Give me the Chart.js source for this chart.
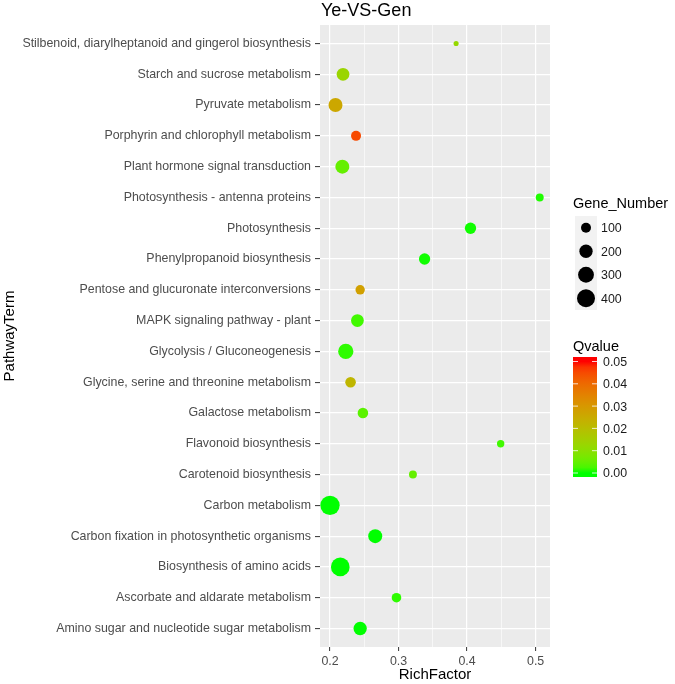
<!DOCTYPE html>
<html>
<head>
<meta charset="utf-8">
<title>Ye-VS-Gen</title>
<script src="https://cdn.jsdelivr.net/npm/chart.js@4.4.1/dist/chart.umd.min.js"></script>
<style>
  body { margin: 0; background: #fff; }
  canvas { display: block; }
</style>
</head>
<body>
<canvas id="chart" width="675" height="684"></canvas>
<script>
// Pathways, top to bottom as shown on the y axis
const pathways = [
    'Stilbenoid, diarylheptanoid and gingerol biosynthesis',
    'Starch and sucrose metabolism',
    'Pyruvate metabolism',
    'Porphyrin and chlorophyll metabolism',
    'Plant hormone signal transduction',
    'Photosynthesis - antenna proteins',
    'Photosynthesis',
    'Phenylpropanoid biosynthesis',
    'Pentose and glucuronate interconversions',
    'MAPK signaling pathway - plant',
    'Glycolysis / Gluconeogenesis',
    'Glycine, serine and threonine metabolism',
    'Galactose metabolism',
    'Flavonoid biosynthesis',
    'Carotenoid biosynthesis',
    'Carbon metabolism',
    'Carbon fixation in photosynthetic organisms',
    'Biosynthesis of amino acids',
    'Ascorbate and aldarate metabolism',
    'Amino sugar and nucleotide sugar metabolism'
];
const richFactor = [0.384, 0.219, 0.208, 0.238, 0.218, 0.506, 0.405, 0.338, 0.244, 0.240,
                    0.223, 0.230, 0.248, 0.449, 0.321, 0.200, 0.266, 0.215, 0.297, 0.244];
const geneNumber = [15, 180, 225, 100, 225, 55, 135, 135, 85, 180,
                    275, 115, 115, 45, 55, 470, 225, 435, 90, 200];
const qValue = [0.012, 0.013, 0.026, 0.045, 0.005, 0.0005, 0.0002, 0.0002, 0.028, 0.002,
                0.001, 0.022, 0.004, 0.002, 0.005, 0, 0, 0, 0.001, 0];

const xTicks = [0.2, 0.25, 0.3, 0.35, 0.4, 0.45, 0.5];
const xMajor = [0.2, 0.3, 0.4, 0.5];
const sizeLegend = [100, 200, 300, 400];
const qTicks = [0, 0.01, 0.02, 0.03, 0.04, 0.05];
const qMax = 0.05;

const FONT = '"Liberation Sans", Arial, Helvetica, sans-serif';

// bubble radius from gene number (sqrt scale like ggplot scale_size)
function radiusFor(n) {
    return 1 + 0.4 * Math.sqrt(n);
}

// green -> red gradient, interpolated in Lab like ggplot
function toLab(rgb) {
    const lin = rgb.map(c => {
        c /= 255;
        return c <= 0.04045 ? c / 12.92 : Math.pow((c + 0.055) / 1.055, 2.4);
    });
    let X = (lin[0] * 0.4124 + lin[1] * 0.3576 + lin[2] * 0.1805) / 0.95047;
    let Y = (lin[0] * 0.2126 + lin[1] * 0.7152 + lin[2] * 0.0722);
    let Z = (lin[0] * 0.0193 + lin[1] * 0.1192 + lin[2] * 0.9505) / 1.08883;
    const f = t => t > 0.008856 ? Math.cbrt(t) : 7.787 * t + 16 / 116;
    X = f(X); Y = f(Y); Z = f(Z);
    return [116 * Y - 16, 500 * (X - Y), 200 * (Y - Z)];
}
function fromLab(lab) {
    let Y = (lab[0] + 16) / 116, X = lab[1] / 500 + Y, Z = Y - lab[2] / 200;
    const g = t => t * t * t > 0.008856 ? t * t * t : (t - 16 / 116) / 7.787;
    X = g(X) * 0.95047; Y = g(Y); Z = g(Z) * 1.08883;
    let r = X * 3.2406 + Y * -1.5372 + Z * -0.4986;
    let gg = X * -0.9689 + Y * 1.8758 + Z * 0.0415;
    let b = X * 0.0557 + Y * -0.2040 + Z * 1.0570;
    return [r, gg, b].map(c => {
        c = c > 0.0031308 ? 1.055 * Math.pow(c, 1 / 2.4) - 0.055 : 12.92 * c;
        return Math.round(Math.min(1, Math.max(0, c)) * 255);
    });
}
const labLow = toLab([0, 255, 0]);
const labHigh = toLab([255, 0, 0]);
function qColor(q) {
    const t = Math.min(1, Math.max(0, q / qMax));
    const c = fromLab(labLow.map((v, i) => v + (labHigh[i] - v) * t));
    return `rgb(${c[0]},${c[1]},${c[2]})`;
}

const n = pathways.length;
const points = pathways.map((p, i) => ({ x: richFactor[i], y: n - 1 - i, r: radiusFor(geneNumber[i]) }));

// grey panel + title + legends
const ggPlugin = {
    id: 'ggStyle',
    beforeDraw(chart) {
        const { ctx, chartArea: a } = chart;
        ctx.save();
        ctx.fillStyle = '#EBEBEB';
        ctx.fillRect(a.left, a.top, a.right - a.left, a.bottom - a.top);
        ctx.restore();
    },
    afterDraw(chart) {
        const { ctx, chartArea: a } = chart;
        ctx.save();
        // title, left aligned on the panel
        ctx.fillStyle = '#000';
        ctx.font = `18px ${FONT}`;
        ctx.textAlign = 'left';
        ctx.textBaseline = 'middle';
        ctx.fillText('Ye-VS-Gen', a.left + 1, 11);

        // size legend
        ctx.font = `14.5px ${FONT}`;
        ctx.fillText('Gene_Number', 573, 204);
        const keyTop = 216, keyH = 23.5;
        ctx.fillStyle = '#F2F2F2';
        ctx.fillRect(575, keyTop, 22, keyH * sizeLegend.length);
        ctx.font = `12.4px ${FONT}`;
        sizeLegend.forEach((v, i) => {
            const cy = keyTop + keyH * (i + 0.5);
            ctx.fillStyle = '#000';
            ctx.beginPath();
            ctx.arc(586, cy, radiusFor(v), 0, Math.PI * 2);
            ctx.fill();
            ctx.fillStyle = '#1a1a1a';
            ctx.fillText(String(v), 601, cy + 1);
        });

        // colour bar legend
        ctx.fillStyle = '#000';
        ctx.font = `14.5px ${FONT}`;
        ctx.fillText('Qvalue', 573, 347);
        const barX = 573, barW = 24, barTop = 357, barBot = 477;
        const yTop = 361.5, yBot = 473;
        const grad = ctx.createLinearGradient(0, yBot, 0, yTop);
        for (let k = 0; k <= 20; k++) {
            grad.addColorStop(k / 20, qColor(qMax * k / 20));
        }
        ctx.fillStyle = grad;
        ctx.fillRect(barX, barTop, barW, barBot - barTop);
        ctx.font = `12.4px ${FONT}`;
        qTicks.forEach(q => {
            const y = yBot - (q / qMax) * (yBot - yTop);
            ctx.strokeStyle = 'rgba(255,255,255,0.8)';
            ctx.lineWidth = 1;
            ctx.beginPath();
            ctx.moveTo(barX, y); ctx.lineTo(barX + 5, y);
            ctx.moveTo(barX + barW - 5, y); ctx.lineTo(barX + barW, y);
            ctx.stroke();
            ctx.fillStyle = '#1a1a1a';
            ctx.fillText(q.toFixed(2), 603, y + 1);
        });
        ctx.restore();
    }
};

new Chart(document.getElementById('chart'), {
    type: 'bubble',
    data: {
        datasets: [{
            data: points,
            backgroundColor: ctx => qColor(qValue[ctx.dataIndex]),
            borderWidth: 0,
            hoverBorderWidth: 0
        }]
    },
    options: {
        responsive: false,
        devicePixelRatio: 1,
        animation: false,
        layout: { padding: { top: 25, right: 125, left: 0, bottom: 0 } },
        plugins: {
            legend: { display: false },
            tooltip: { enabled: false }
        },
        scales: {
            x: {
                type: 'linear',
                min: 0.1854,
                max: 0.521,
                afterBuildTicks: scale => { scale.ticks = xTicks.map(v => ({ value: v })); },
                afterFit: scale => { scale.height = 37; },
                border: { display: false },
                grid: {
                    color: '#FFFFFF',
                    lineWidth: c => xMajor.some(v => Math.abs(v - c.tick.value) < 1e-6) ? 1.2 : 0.6,
                    tickColor: c => xMajor.some(v => Math.abs(v - c.tick.value) < 1e-6) ? '#333333' : 'rgba(0,0,0,0)',
                    tickLength: 4,
                    tickWidth: 1
                },
                ticks: {
                    color: '#4D4D4D',
                    font: { family: FONT, size: 12.4 },
                    padding: 3,
                    maxRotation: 0,
                    autoSkip: false,
                    callback: v => xMajor.some(m => Math.abs(m - v) < 1e-6) ? String(Math.round(v * 10) / 10) : ''
                },
                title: {
                    display: true,
                    text: 'RichFactor',
                    color: '#000',
                    font: { family: FONT, size: 15 },
                    padding: { top: 0, bottom: 0 }
                }
            },
            y: {
                type: 'linear',
                min: -0.6,
                max: n - 1 + 0.6,
                afterBuildTicks: scale => { scale.ticks = pathways.map((p, i) => ({ value: i })); },
                afterFit: scale => { scale.width = 320; },
                border: { display: false },
                grid: {
                    color: '#FFFFFF',
                    lineWidth: 1.2,
                    tickColor: '#333333',
                    tickLength: 5,
                    tickWidth: 1
                },
                ticks: {
                    color: '#4D4D4D',
                    font: { family: FONT, size: 12.4 },
                    padding: 4,
                    autoSkip: false,
                    callback: v => pathways[n - 1 - v]
                },
                title: {
                    display: true,
                    text: 'PathwayTerm',
                    color: '#000',
                    font: { family: FONT, size: 15 },
                    padding: { top: 1, bottom: 0 }
                }
            }
        }
    },
    plugins: [ggPlugin]
});
</script>
</body>
</html>
